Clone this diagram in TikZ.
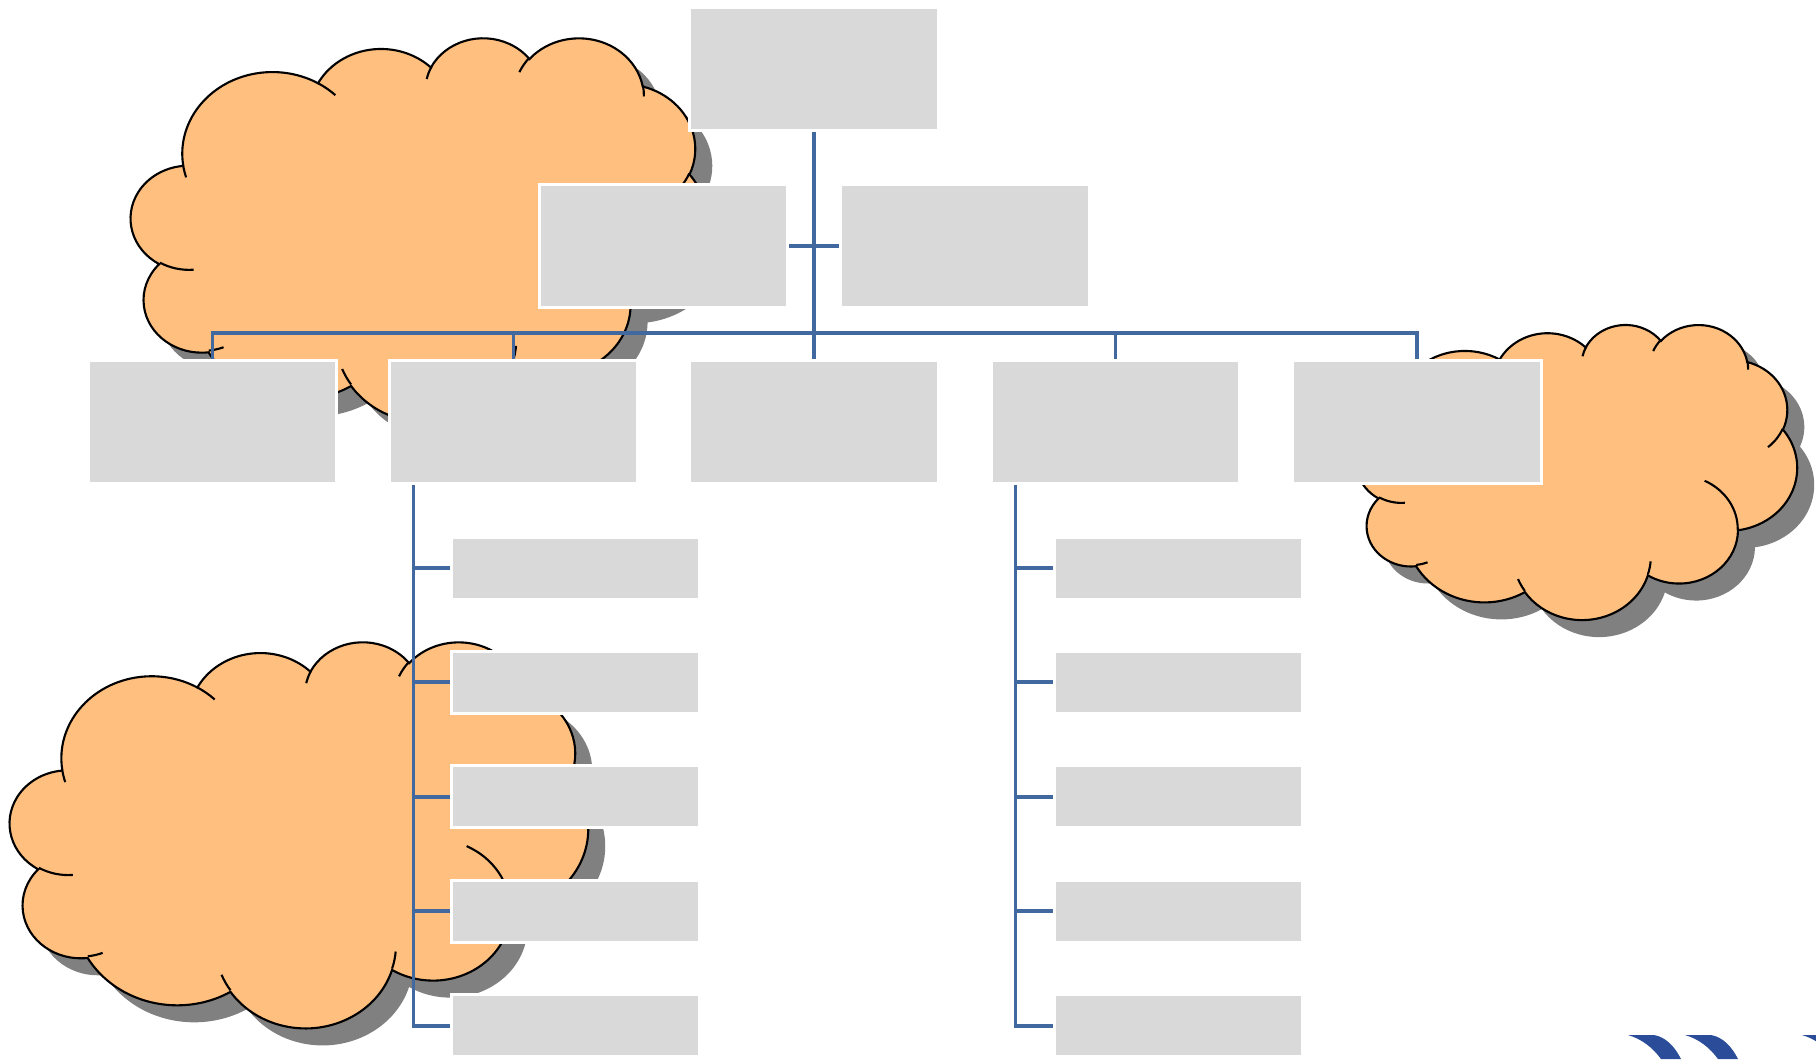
\documentclass[tikz,border=0pt]{standalone}
\usepackage{tikz}
\definecolor{boxgray}{HTML}{D9D9D9}
\definecolor{lineblue}{HTML}{4169A0}
\definecolor{cloudfill}{HTML}{FFBF7F}
\definecolor{shadowgray}{HTML}{808080}
\definecolor{logoblue}{HTML}{2B4C98}
\pgfdeclarelayer{clouds}
\pgfdeclarelayer{conns}
\pgfsetlayers{clouds,conns,main}

\tikzset{
  ca/.code n args={4}{%
    \pgfmathsetmacro\caS{atan2(#1*sin(#3),#2*cos(#3))}%
    \pgfmathsetmacro\caE{atan2(#1*sin(#3+#4),#2*cos(#3+#4))}%
    \pgfmathsetmacro\caD{\caE-\caS}%
    \pgfmathsetmacro\caD{\caD-360*round((\caD-(#4))/360)}%
    \pgfmathsetmacro\caX{#1/100*\csx}%
    \pgfmathsetmacro\caY{#2/100*\csy}%
    \edef\canext{\noexpand\pgfkeysalso{start angle=\caS, delta angle=\caD, x radius=\caX, y radius=\caY}}%
    \canext
  },
  box/.style={rectangle, fill=boxgray, draw=white, line width=0.85pt, inner sep=0pt,
    minimum width=2.48cm, minimum height=1.23cm},
  subbox/.style={box, minimum height=0.62cm},
  conn/.style={draw=lineblue, line width=1.1pt},
  cloudbody/.style={fill=cloudfill, draw=black, line width=0.6pt},
  cloudshadow/.style={fill=shadowgray},
  cloudline/.style={draw=black, line width=0.6pt},
}

\newcommand{\pptcloud}[5]{%
  \pgfmathsetmacro\csx{#3/432}%
  \pgfmathsetmacro\csy{#4/432}%
  \path[#5] ({#1+39.00*\csx},{#2+143.70*\csy})
    arc[ca={6753}{9190}{-190.4875}{123.7805}]
    arc[ca={5333}{7267}{-144.1024}{89.9452}]
    arc[ca={4365}{5945}{-145.8079}{99.7230}]
    arc[ca={4857}{6595}{-130.9861}{117.2417}]
    arc[ca={5333}{7273}{-78.7089}{109.0269}]
    arc[ca={6775}{9220}{-46.2673}{130.2690}]
    arc[ca={5785}{7867}{0.6250}{114.0333}]
    arc[ca={6752}{9215}{22.4516}{115.1726}]
    arc[ca={7720}{10543}{66.2426}{75.7110}]
    arc[ca={4360}{5918}{-274.9421}{146.7356}]
    arc[ca={4345}{5945}{-246.8285}{152.5189}]
    -- cycle;
}
\newcommand{\pptcloudlines}[5]{%
  \pgfmathsetmacro\csx{#3/432}%
  \pgfmathsetmacro\csy{#4/432}%
  \path[#5]
    ({#1+46.93*\csx},{#2+261.77*\csy}) arc[ca={4345}{5945}{86.7420}{26.4295}]
    ({#1+69.28*\csx},{#2+348.99*\csy}) arc[ca={4360}{5918}{73.6105}{11.4475}]
    ({#1+164.78*\csx},{#2+390.90*\csy}) arc[ca={6752}{9215}{137.6242}{14.0811}]
    ({#1+288.27*\csx},{#2+347.51*\csy}) arc[ca={6752}{9215}{6.4533}{15.9984}]
    ({#1+341.29*\csx},{#2+229.54*\csy}) arc[ca={5785}{7867}{-70.2924}{70.9174}]
    ({#1+417.98*\csx},{#2+153.54*\csy}) arc[ca={5333}{7273}{30.3180}{27.7515}]
    ({#1+383.24*\csx},{#2+54.26*\csy}) arc[ca={4857}{6595}{-13.7443}{14.8589}]
    ({#1+290.78*\csx},{#2+39.52*\csy}) arc[ca={4857}{6595}{-149.1815}{18.1954}]
    ({#1+221.41*\csx},{#2+47.20*\csy}) arc[ca={4365}{5945}{-163.4943}{17.6864}]
    ({#1+140.00*\csx},{#2+51.92*\csy}) arc[ca={6753}{9190}{-66.7070}{12.3194}]
    ({#1+41.27*\csx},{#2+157.89*\csy}) arc[ca={6753}{9190}{157.6544}{11.8582}];
}
\newcommand{\fullcloud}[4]{%
  \pptcloud{#1+17}{#2+17}{#3}{#4}{cloudshadow}%
  \pptcloud{#1}{#2}{#3}{#4}{cloudbody}%
  \pptcloudlines{#1}{#2}{#3}{#4}{cloudline}%
}

\begin{document}
\begin{tikzpicture}[x=0.01cm, y=-0.01cm]
\useasboundingbox (0,0) rectangle (1816,1059);
\clip (0,0) rectangle (1816,1059);

% boxes
\node[box] (top) at (814,69) {};
\node[box] (as1) at (663.5,246) {};
\node[box] (as2) at (965,246) {};
\node[box] (m1) at (212.5,422) {};
\node[box] (m2) at (513.5,422) {};
\node[box] (m3) at (814,422) {};
\node[box] (m4) at (1115.5,422) {};
\node[box] (m5) at (1417,422) {};
\foreach \i/\yy in {1/568,2/682.4,3/796.8,4/911.2,5/1025.6}{
  \node[subbox] (sa\i) at (575.5,\yy) {};
  \node[subbox] (sb\i) at (1178.5,\yy) {};
}

% clouds
\begin{pgfonlayer}{clouds}
\fullcloud{131}{37}{577}{384}
\fullcloud{1357}{324}{440}{295}
\fullcloud{10}{641}{578}{386}
\end{pgfonlayer}

% connectors
\begin{pgfonlayer}{conns}
\coordinate (bus) at (814,333);
\coordinate (v1) at (413.5,484);
\coordinate (v2) at (1015.5,484);
\draw[conn] (top.south) -- (m3.north);
\draw[conn] (as1.east) -- (as2.west);
\draw[conn] (m1.north) -- (m1.north |- bus) -- (m5.north |- bus) -- (m5.north);
\draw[conn] (m2.north) -- (m2.north |- bus);
\draw[conn] (m4.north) -- (m4.north |- bus);
\foreach \i in {1,...,5}{
  \draw[conn] (v1) |- (sa\i.west);
  \draw[conn] (v2) |- (sb\i.west);
}
\end{pgfonlayer}

% partial logo at bottom right
\foreach \dx in {0,57,174}{
  \fill[logoblue, shift={(\dx,0)}] (1628,1035) -- (1654,1035)
    .. controls (1666,1037) and (1675,1047) .. (1681,1059) -- (1661,1059)
    .. controls (1653,1048) and (1642,1039) .. (1628,1035) -- cycle;
}
\end{tikzpicture}
\end{document}
